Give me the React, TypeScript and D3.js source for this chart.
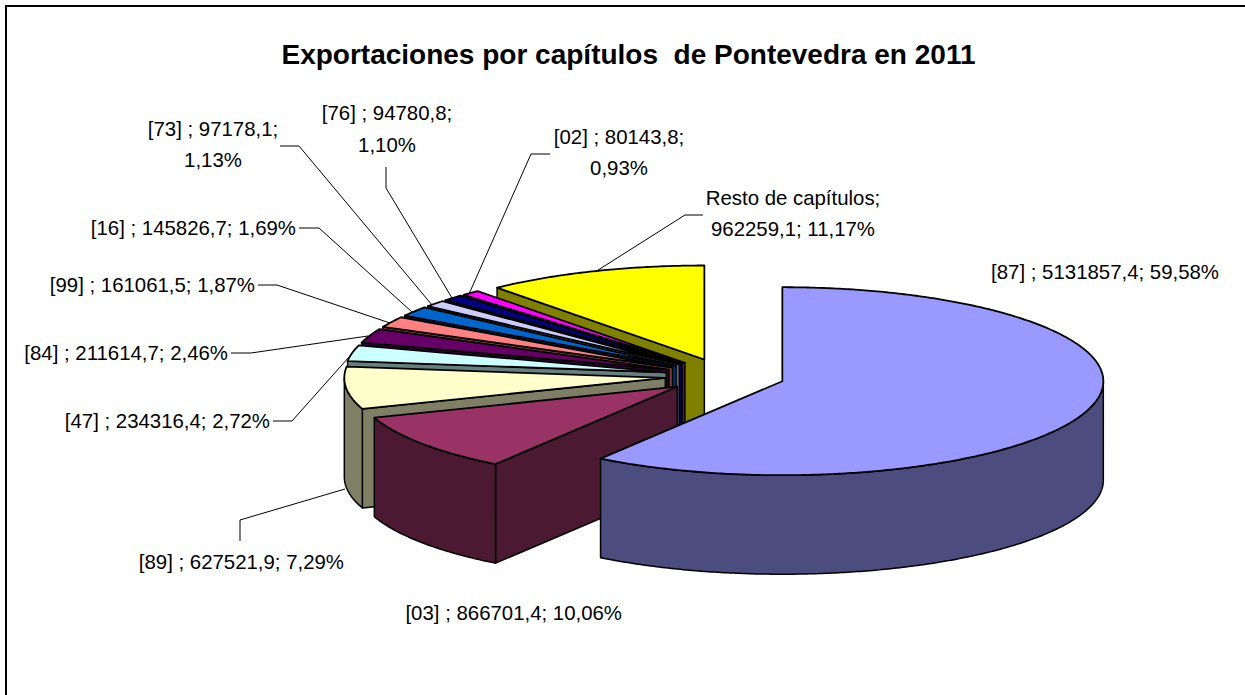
import React from "react";
import * as d3 from "d3";

const categories = ["[87]", "[03]", "[89]", "[47]", "[84]", "[99]", "[16]", "[73]", "[76]", "[02]", "Resto de capítulos"];
const values = [5131857.4, 866701.4, 627521.9, 234316.4, 211614.7, 161061.5, 145826.7, 97178.1, 94780.8, 80143.8, 962259.1];
const percents = ["59,58", "10,06", "7,29", "2,72", "2,46", "1,87", "1,69", "1,13", "1,10", "0,93", "11,17"];
const topColors = ["#9999FF", "#993366", "#FFFFCC", "#CCFFFF", "#660066", "#FF8080", "#0066CC", "#CCCCFF", "#000080", "#FF00FF", "#FFFF00"];
const sideColors = ["#4C4C7F", "#4C1933", "#7F7F66", "#667F7F", "#330033", "#7F4040", "#003366", "#66667F", "#000040", "#7F007F", "#7F7F00"];

const titleText = "Exportaciones por capítulos  de Pontevedra en 2011";

// Label layout, by category index: anchor, x, baselines
const labelLayout = [
  { a: "end", x: 1219, y: [279] },
  { a: "end", x: 622, y: [620] },
  { a: "end", x: 344, y: [569] },
  { a: "end", x: 270, y: [428] },
  { a: "end", x: 228, y: [360] },
  { a: "end", x: 255, y: [292] },
  { a: "end", x: 296, y: [235] },
  { a: "middle", x: 213, y: [136, 167] },
  { a: "middle", x: 387, y: [120, 152] },
  { a: "middle", x: 619, y: [144, 175] },
  { a: "middle", x: 793, y: [205, 236] },
];

const leaders: (number[][] | null)[] = [
  null,
  null,
  [[240, 541], [240, 520], [345, 489]],
  [[273, 421], [292, 421], [349, 357]],
  [[231, 353], [251, 353], [368, 336]],
  [[258, 285], [277, 285], [390, 323]],
  [[299, 228], [319, 228], [412, 312]],
  [[280, 146], [299, 146], [432, 305]],
  [[386, 167], [386, 188], [452, 298]],
  [[550, 154], [531, 154], [469, 294]],
  [[703, 215], [685, 215], [595, 272]],
];

const CX = 725;
const CY = 376;
const RX = 321;
const RY = 94;
const DEPTH = 99;
const EXPLODE = 0.187;

const scaleX = d3.scaleLinear().domain([-1, 1]).range([CX - RX, CX + RX]);
const scaleY = d3.scaleLinear().domain([-1, 1]).range([CY - RY, CY + RY]);

const pieGen = d3.pie<number>().sort(null).value((d) => d);
const lineGen = d3.line<[number, number]>();

type P = [number, number];

function sliceGeometry(a0: number, a1: number) {
  const mid = (a0 + a1) / 2;
  const ox = EXPLODE * Math.sin(mid);
  const oy = -EXPLODE * Math.cos(mid);
  const pt = (a: number, dz = 0): P => [
    scaleX(ox + Math.sin(a)),
    scaleY(oy - Math.cos(a)) + dz,
  ];
  const apex = (dz = 0): P => [scaleX(ox), scaleY(oy) + dz];
  const samples = (s: number, e: number, dz = 0): P[] => {
    const n = Math.max(2, Math.ceil((e - s) / 0.01));
    return d3.range(n + 1).map((i) => pt(s + ((e - s) * i) / n, dz));
  };
  const close = (p: P[]) => lineGen(p) + "Z";

  const top = close([apex(), ...samples(a0, a1)]);
  const sides: string[] = [];
  if (Math.sin(a0) < -1e-6) {
    sides.push(close([apex(), pt(a0), pt(a0, DEPTH), apex(DEPTH)]));
  }
  if (Math.sin(a1) > 1e-6) {
    sides.push(close([apex(), pt(a1), pt(a1, DEPTH), apex(DEPTH)]));
  }
  const rs = Math.max(a0, Math.PI / 2);
  const re = Math.min(a1, (3 * Math.PI) / 2);
  if (re > rs) {
    sides.push(close([...samples(rs, re), ...samples(rs, re, DEPTH).reverse()]));
  }
  return { top, sides };
}

export default function App() {
  const arcs = pieGen(values);
  const paintOrder = d3.range(values.length).reverse();
  const font = "'Liberation Sans', Arial, sans-serif";
  return (
    <svg
      width={1245}
      height={695}
      viewBox="0 0 1245 695"
      style={{ position: "fixed", left: 0, top: 0, background: "#fff" }}
    >
      <path d="M6,695V6H1245" fill="none" stroke="#000" strokeWidth={2} />
      <text
        x={628.5}
        y={63.5}
        textAnchor="middle"
        fontFamily={font}
        fontWeight="bold"
        fontSize={28}
        fill="#000"
        style={{ whiteSpace: "pre" }}
      >
        {titleText}
      </text>

      {paintOrder.map((i) => {
        const { top, sides } = sliceGeometry(arcs[i].startAngle, arcs[i].endAngle);
        return (
          <g key={i} stroke="#000" strokeLinejoin="round">
            {sides.map((d, k) => (
              <path key={k} d={d} fill={sideColors[i]} strokeWidth={1.5} />
            ))}
            <path d={top} fill={topColors[i]} strokeWidth={1.8} />
          </g>
        );
      })}

      {leaders.map((pts, i) =>
        pts ? (
          <path key={i} d={lineGen(pts as P[]) as string} fill="none" stroke="#000" strokeWidth={1} />
        ) : null
      )}

      {categories.map((c, i) => {
        const l = labelLayout[i];
        const head = `${c}${i === 10 ? ";" : " ;"}`;
        const val = d3.format(".1f")(values[i]).replace(".", ",");
        const lines =
          l.y.length === 1
            ? [`${head} ${val}; ${percents[i]}%`]
            : i === 10
            ? [head, `${val}; ${percents[i]}%`]
            : [`${head} ${val};`, `${percents[i]}%`];
        return lines.map((t, k) => (
          <text
            key={`${i}-${k}`}
            x={l.x}
            y={l.y[k]}
            textAnchor={l.a as "end" | "middle"}
            fontFamily={font}
            fontSize={20.4}
            fill="#000"
          >
            {t}
          </text>
        ));
      })}
    </svg>
  );
}
